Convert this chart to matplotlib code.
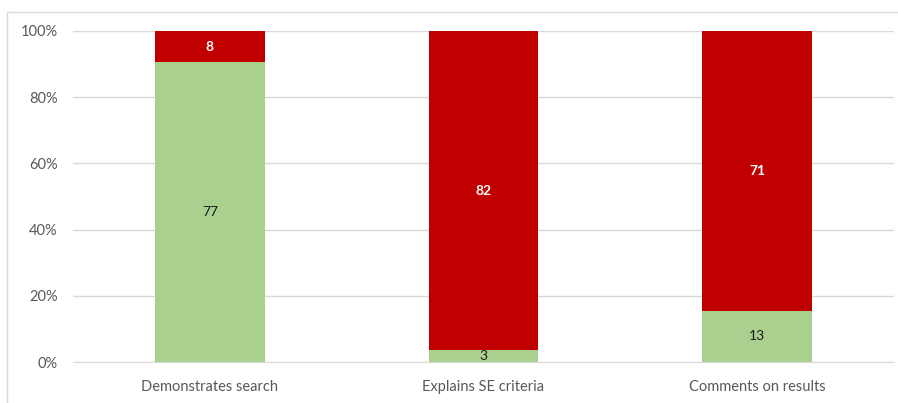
import matplotlib.pyplot as plt
import numpy as np
from matplotlib.patches import Rectangle

categories = ["Demonstrates search", "Explains SE criteria", "Comments on results"]
yes_counts = [77, 3, 13]
no_counts = [8, 82, 71]

plt.rcParams['font.family'] = ['Lato', 'DejaVu Sans']

yes = np.array(yes_counts, dtype=float)
no = np.array(no_counts, dtype=float)
total = yes + no
yes_pct = yes / total * 100
no_pct = no / total * 100

fig = plt.figure(figsize=(8.98, 4.03), dpi=100)
ax = fig.add_axes([73 / 898, 41 / 403, (894 - 73) / 898, (362 - 31) / 403])

# chart border (cropped on the right and bottom)
fig.patches.append(Rectangle((7 / 898, -0.1), 1.2, (403 - 12) / 403 + 0.1,
                             transform=fig.transFigure, fill=False,
                             edgecolor="#D9D9D9", linewidth=1))

x = np.arange(len(categories))
ax.bar(x, yes_pct, width=0.4, color="#A9D08E", zorder=2)
ax.bar(x, no_pct, width=0.4, bottom=yes_pct, color="#C00000", zorder=2)

for i in range(len(categories)):
    ax.text(x[i], yes_pct[i] / 2, str(yes_counts[i]), ha="center", va="center",
            fontsize=10, color="#1a1a1a", zorder=3)
    ax.text(x[i], yes_pct[i] + no_pct[i] / 2, str(no_counts[i]), ha="center",
            va="center", fontsize=10, color="white", fontweight="bold", zorder=3)

ax.set_xlim(-0.5, 2.5)
ax.set_ylim(0, 100)
ax.set_yticks(range(0, 101, 20))
ax.set_yticklabels([f"{v}%" for v in range(0, 101, 20)])
ax.set_xticks(x)
ax.set_xticklabels(categories)
ax.tick_params(axis="both", length=0, labelsize=10.5, colors="#595959")
ax.tick_params(axis="y", pad=11)
ax.tick_params(axis="x", pad=13)
ax.grid(axis="y", color="#D9D9D9", linewidth=1, zorder=0)
for s in ["top", "right", "left"]:
    ax.spines[s].set_visible(False)
ax.spines["bottom"].set_color("#D9D9D9")

fig.savefig("out.png", dpi=100)
